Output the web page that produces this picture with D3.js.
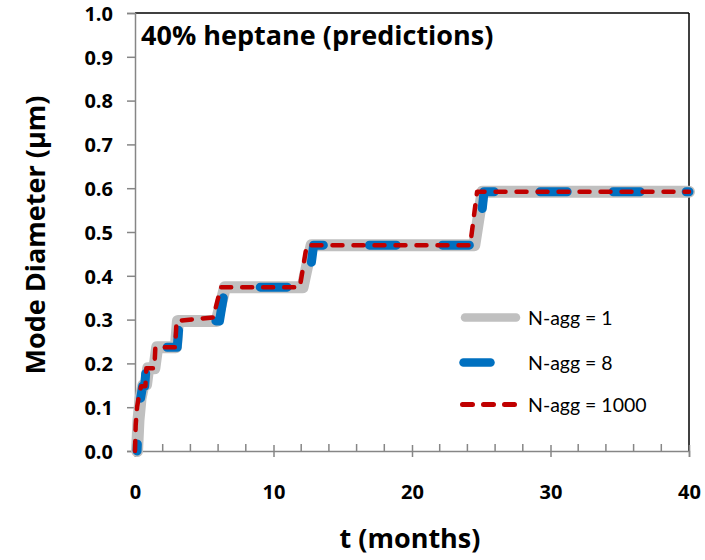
<!DOCTYPE html>
<html>
<head>
<meta charset="utf-8">
<script src="https://cdn.jsdelivr.net/npm/d3@7"></script>
<style>
  html, body { margin: 0; padding: 0; background: #fff; }
  svg text { font-family: "Open Sans", Lato, sans-serif; fill: #000; }
</style>
</head>
<body>
<svg id="chart" width="705" height="560"></svg>
<script>
// Mode diameter (µm) versus time (months), 40% heptane, for three aggregation sizes
const nAgg1 = [
  [0.15, 0.0], [0.25, 0.07], [0.4, 0.12], [0.6, 0.15], [0.8, 0.152], [0.95, 0.189],
  [1.4, 0.189], [1.6, 0.237], [2.95, 0.237], [3.1, 0.297], [5.9, 0.297],
  [6.5, 0.374], [12.1, 0.374], [12.75, 0.47], [24.5, 0.47], [25.1, 0.592], [40, 0.592]
];
const nAgg8 = [
  [0.15, 0.0], [0.25, 0.08], [0.4, 0.12], [0.55, 0.148], [0.7, 0.148], [0.8, 0.189],
  [1.6, 0.189], [1.7, 0.237], [3.05, 0.237], [3.2, 0.297], [6.1, 0.297],
  [6.5, 0.374], [12.5, 0.374], [12.9, 0.47], [24.8, 0.47], [25.2, 0.592], [40, 0.592]
];
const nAgg1000 = [
  [0.0, 0.0], [0.05, 0.06], [0.15, 0.10], [0.3, 0.13], [0.45, 0.148], [0.75, 0.148],
  [0.82, 0.189], [1.4, 0.189], [1.47, 0.237], [2.9, 0.237], [3.0, 0.297],
  [5.65, 0.305], [6.2, 0.374], [11.9, 0.374], [12.4, 0.47], [24.2, 0.47],
  [24.7, 0.592], [40, 0.592]
];
const seriesNames = ["N-agg = 1", "N-agg = 8", "N-agg = 1000"];
const yTicks = [0, 0.1, 0.2, 0.3, 0.4, 0.5, 0.6, 0.7, 0.8, 0.9, 1.0];
const xTicks = [0, 10, 20, 30, 40];
const xMinorTicks = [2, 4, 6, 8, 12, 14, 16, 18, 22, 24, 26, 28, 32, 34, 36, 38];
const titleText = "40% heptane (predictions)";
const xTitle = "t (months)";
const yTitle = "Mode Diameter (µm)";

const svg = d3.select("#chart");
const plotLeft = 135, plotRight = 689, plotTop = 13, plotBottom = 451;

const x = d3.scaleLinear().domain([0, 40]).range([plotLeft, plotRight]);
const y = d3.scaleLinear().domain([0, 1]).range([plotBottom, plotTop]);

const styles = [
  { color: "#c0c0c0", width: 12, dash: null, offset: 0 },
  { color: "#0070c0", width: 9, dash: "27 46", offset: 20 },
  { color: "#c00000", width: 4.5, dash: "10 11", offset: 0 }
];
const boldFont = "'Open Sans', sans-serif";

// plot frame: black top and right edges
svg.append("line").attr("x1", plotLeft).attr("x2", plotRight).attr("y1", plotTop).attr("y2", plotTop)
  .attr("stroke", "#000").attr("stroke-width", 1.5);
svg.append("line").attr("x1", plotRight).attr("x2", plotRight).attr("y1", plotTop).attr("y2", plotBottom)
  .attr("stroke", "#000").attr("stroke-width", 1.5);

// y axis
const yAxis = d3.axisLeft(y).tickValues(yTicks).tickSize(8).tickFormat(d3.format(".1f"));
const gy = svg.append("g").attr("transform", `translate(${plotLeft},0)`).call(yAxis);
gy.select(".domain").attr("stroke", "#868686").attr("stroke-width", 1.5);
gy.selectAll(".tick line").attr("stroke", "#868686").attr("stroke-width", 1.5);
gy.selectAll(".tick text").attr("x", -22).attr("dy", "0.36em")
  .style("font-size", "20px").style("font-weight", "bold").style("font-family", boldFont).attr("fill", "#000");

// x axis: major ticks cross the axis, minor ticks point inward
const xAxis = d3.axisBottom(x).tickValues(xTicks).tickSize(6).tickFormat(d3.format("d"));
const gx = svg.append("g").attr("transform", `translate(0,${plotBottom})`).call(xAxis);
gx.select(".domain").attr("stroke", "#868686").attr("stroke-width", 1.5);
gx.selectAll(".tick line").attr("stroke", "#868686").attr("stroke-width", 1.5).attr("y1", -6);
gx.selectAll(".tick text").attr("y", 41).attr("dy", "0.35em")
  .style("font-size", "20px").style("font-weight", "bold").style("font-family", boldFont).attr("fill", "#000");
svg.append("g").selectAll("line").data(xMinorTicks).join("line")
  .attr("x1", d => x(d)).attr("x2", d => x(d)).attr("y1", plotBottom - 7).attr("y2", plotBottom)
  .attr("stroke", "#868686").attr("stroke-width", 1.5);

// series lines
const line = d3.line().x(d => x(d[0])).y(d => y(d[1]));
[nAgg1, nAgg8, nAgg1000].forEach((data, i) => {
  const s = styles[i];
  svg.append("path").datum(data).attr("d", line)
    .attr("fill", "none").attr("stroke", s.color).attr("stroke-width", s.width)
    .attr("stroke-linecap", "round").attr("stroke-linejoin", "round")
    .attr("stroke-dasharray", s.dash).attr("stroke-dashoffset", s.offset);
});

// legend
const legendY = [317.5, 362.5, 404.5];
const legendX0 = [465, 463.5, 462.5], legendX1 = [516, 518, 514.5];
seriesNames.forEach((name, i) => {
  const s = styles[i];
  svg.append("line").attr("x1", legendX0[i]).attr("x2", legendX1[i])
    .attr("y1", legendY[i]).attr("y2", legendY[i])
    .attr("stroke", s.color).attr("stroke-width", i === 2 ? 5 : 8.5)
    .attr("stroke-linecap", "round").attr("stroke-dasharray", s.dash);
  svg.append("text").attr("x", 528).attr("y", legendY[i]).attr("dy", "0.36em")
    .style("font-family", "Lato, sans-serif").style("font-size", "19.5px").text(name);
});

// titles
svg.append("text").attr("x", 141).attr("y", 45)
  .style("font-size", "27px").style("font-weight", "bold").text(titleText);
svg.append("text").attr("x", 410).attr("y", 548).attr("text-anchor", "middle")
  .style("font-size", "27px").style("font-weight", "bold").text(xTitle);
svg.append("text").attr("transform", "translate(45,235) rotate(-90)").attr("text-anchor", "middle")
  .style("font-size", "27px").style("font-weight", "bold").text(yTitle);
</script>
</body>
</html>
